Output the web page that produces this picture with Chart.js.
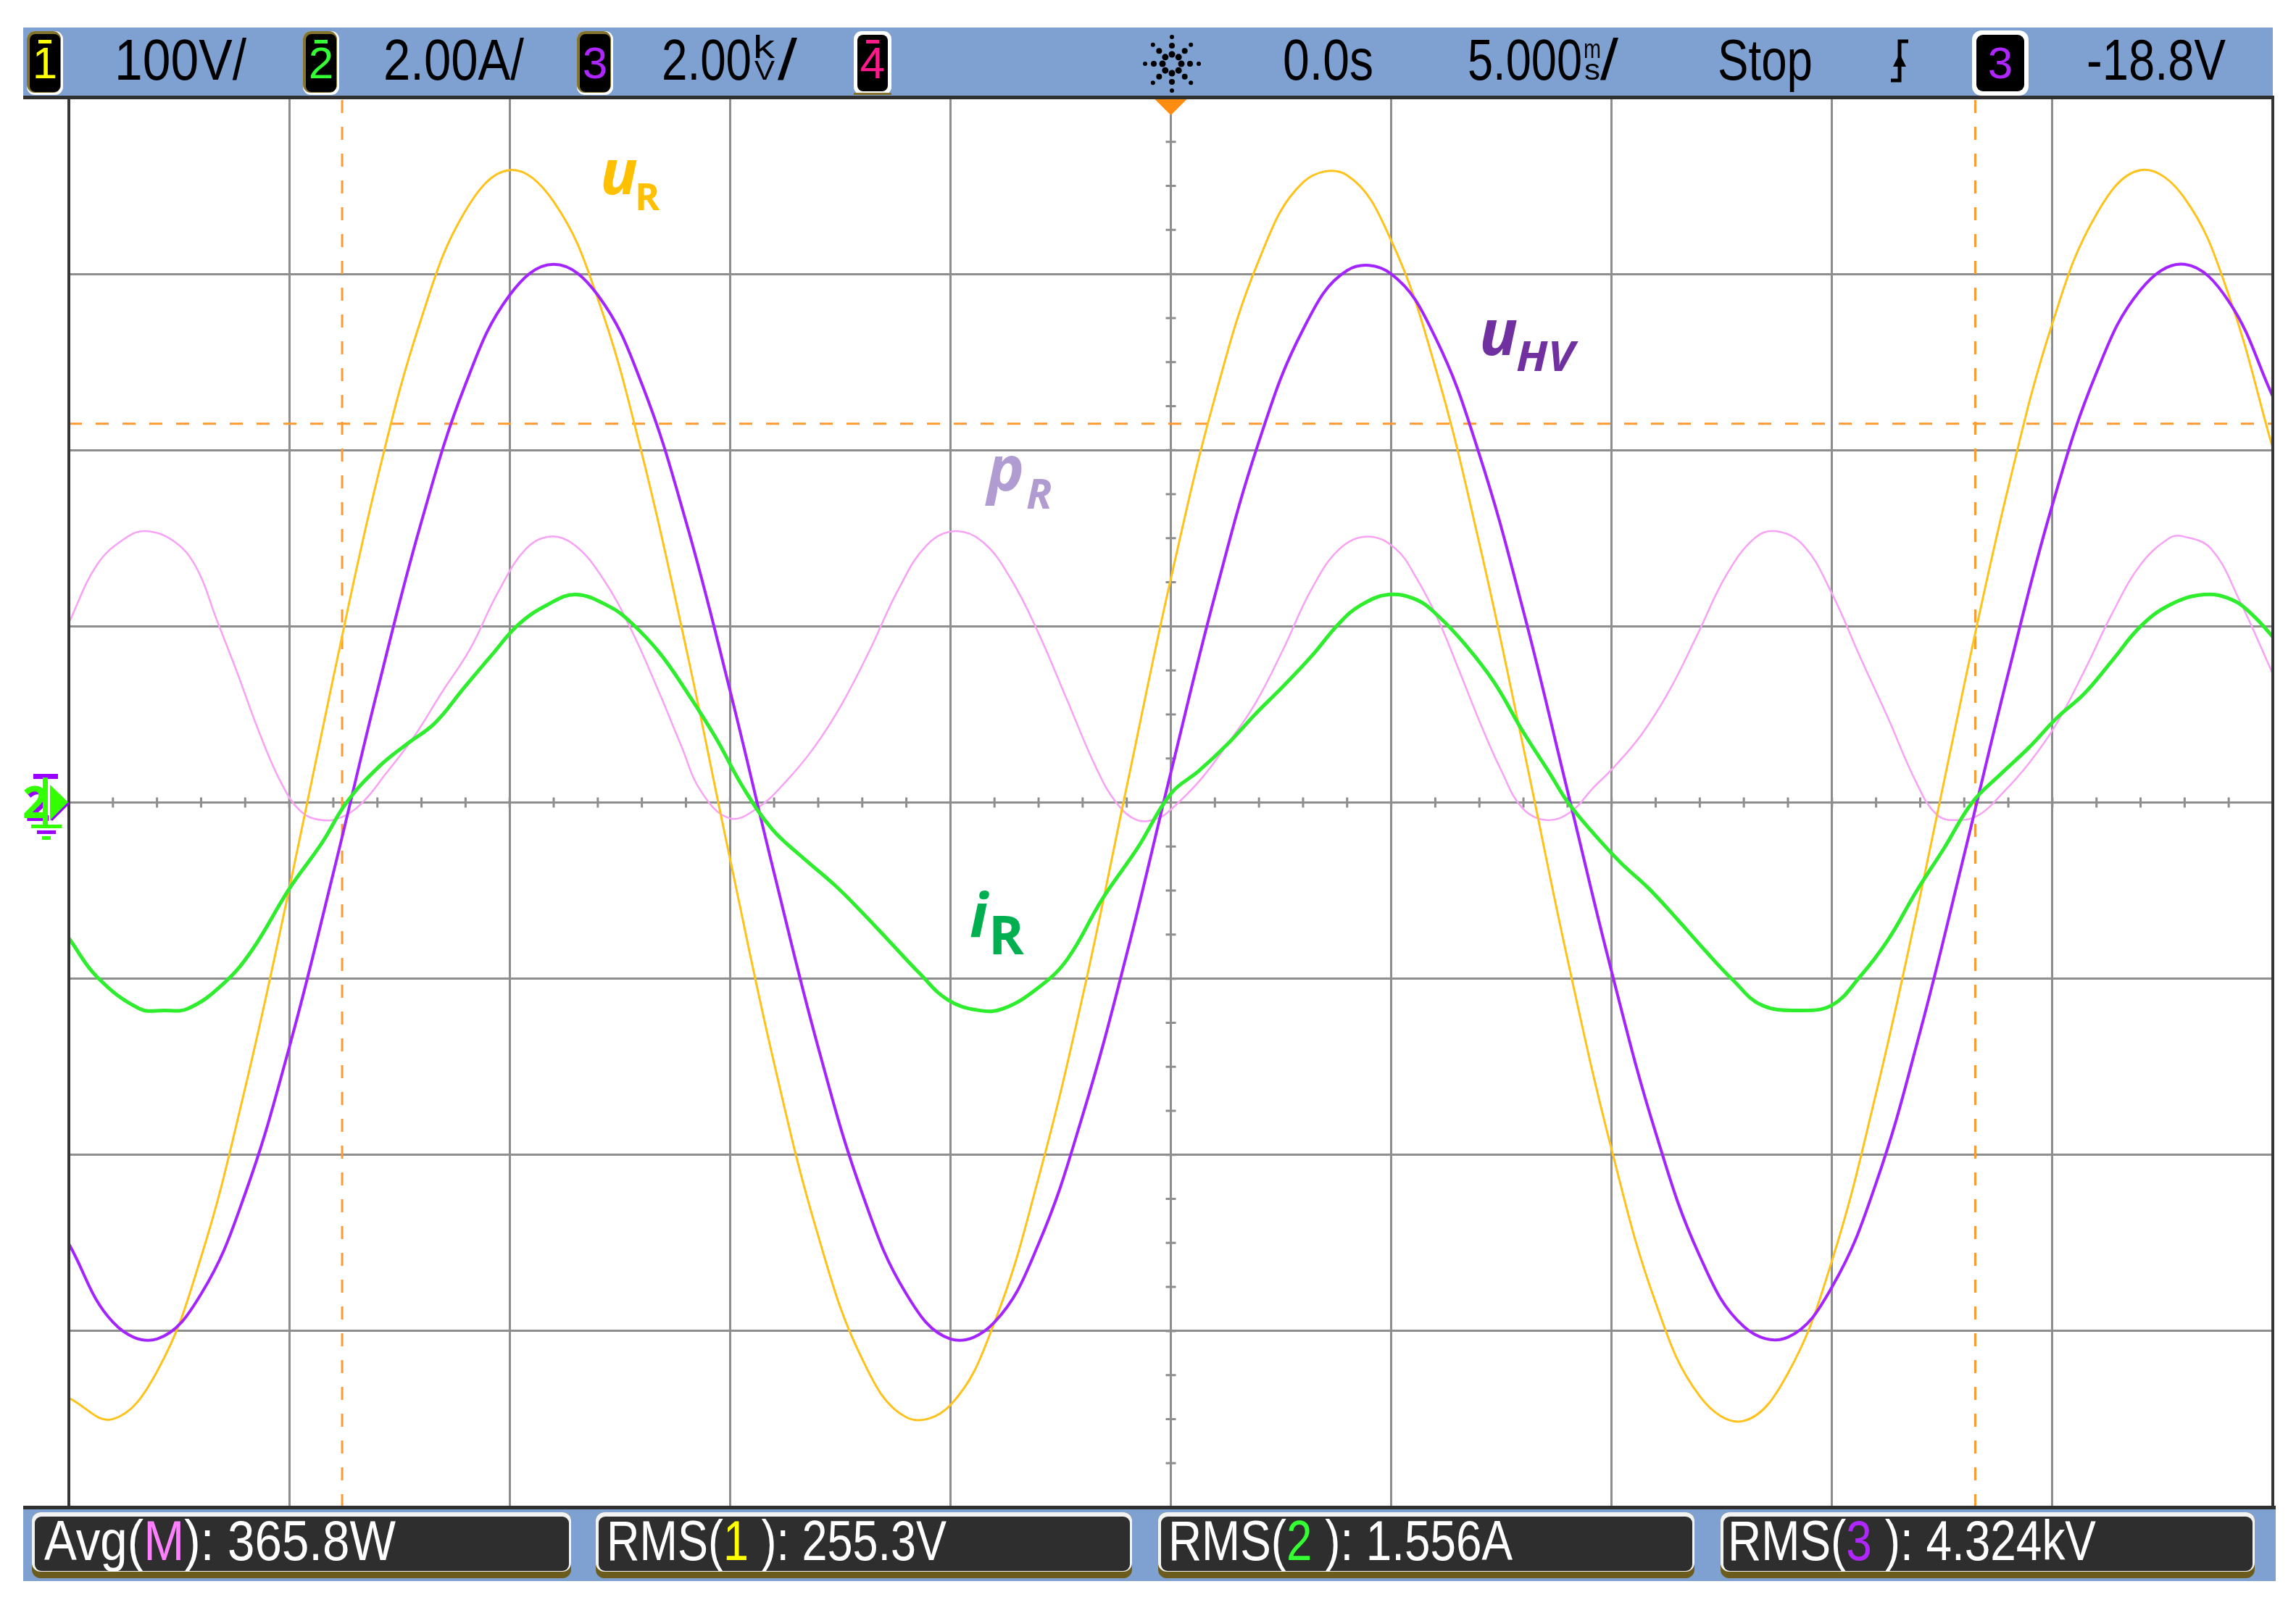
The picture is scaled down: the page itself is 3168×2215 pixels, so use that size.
<!DOCTYPE html>
<html>
<head>
<meta charset="utf-8">
<title>uR, iR, pR, uHV</title>
<script src="https://cdn.jsdelivr.net/npm/chart.js@4.4.1/dist/chart.umd.min.js"></script>
<style>
  html, body { margin: 0; background: #fff; }
  body { width: 3168px; height: 2215px; position: relative; overflow: hidden; }
  #scope { position: absolute; left: 85px; top: 125px; }
  #overlay { position: absolute; left: 0; top: 0; }
  .bar { font-family: "Liberation Sans", Arial, sans-serif; white-space: pre; }
  .lbl { font-family: "Open Sans", "Noto Sans", sans-serif; font-weight: 700; }
</style>
</head>
<body>
<canvas id="scope" width="3061" height="1965"></canvas>

<svg id="overlay" width="3168" height="2215" xmlns="http://www.w3.org/2000/svg">
  <!-- top status bar -->
  <rect x="32" y="38" width="3104" height="96" fill="#7ea1d1"/>
  <rect x="32" y="132" width="3106" height="5" fill="#303030"/>

  <rect x="37" y="43" width="50" height="88" rx="11" fill="#fff"/>
  <rect x="37" y="43" width="47" height="85" rx="11" fill="#85742e"/>
  <rect x="41" y="47" width="42" height="80" rx="8" fill="#000"/>
  <rect x="53" y="55" width="18" height="5" fill="#ffff00"/>
  <text class="bar" x="62" y="108" font-size="62" text-anchor="middle" fill="#ffff00">1</text>
  <text class="bar" x="158" y="110" font-size="80" textLength="182" lengthAdjust="spacingAndGlyphs">100V/</text>

  <rect x="418" y="43" width="50" height="88" rx="11" fill="#fff"/>
  <rect x="418" y="43" width="47" height="85" rx="11" fill="#85742e"/>
  <rect x="422" y="47" width="42" height="80" rx="8" fill="#000"/>
  <rect x="434" y="55" width="18" height="5" fill="#33ff33"/>
  <text class="bar" x="443" y="108" font-size="62" text-anchor="middle" fill="#33ff33">2</text>
  <text class="bar" x="529" y="110" font-size="80" textLength="194" lengthAdjust="spacingAndGlyphs">2.00A/</text>

  <rect x="796" y="43" width="50" height="88" rx="11" fill="#fff"/>
  <rect x="796" y="43" width="47" height="85" rx="11" fill="#85742e"/>
  <rect x="800" y="47" width="42" height="80" rx="8" fill="#000"/>
  <text class="bar" x="821" y="108" font-size="62" text-anchor="middle" fill="#b026ff">3</text>
  <text class="bar" x="913" y="110" font-size="80" textLength="124" lengthAdjust="spacingAndGlyphs">2.00</text>
  <text class="bar" x="1039" y="80" font-size="44" textLength="30" lengthAdjust="spacingAndGlyphs">k</text>
  <text class="bar" x="1041" y="110" font-size="36" textLength="28" lengthAdjust="spacingAndGlyphs">V</text>
  <text class="bar" x="1073" y="110" font-size="80" textLength="27" lengthAdjust="spacingAndGlyphs">/</text>

  <rect x="1178" y="43" width="52" height="88" rx="11" fill="#fff"/>
  <rect x="1178" y="128" width="52" height="3" fill="#85742e"/>
  <rect x="1183" y="48" width="42" height="78" rx="8" fill="#000"/>
  <rect x="1195" y="55" width="18" height="5" fill="#ff1a8c"/>
  <text class="bar" x="1204" y="108" font-size="62" text-anchor="middle" fill="#ff1a8c">4</text>

  <g id="logo"></g>

  <text class="bar" x="1770" y="110" font-size="80" textLength="125" lengthAdjust="spacingAndGlyphs">0.0s</text>
  <text class="bar" x="2025" y="110" font-size="80" textLength="158" lengthAdjust="spacingAndGlyphs">5.000</text>
  <text class="bar" x="2185" y="80" font-size="36" textLength="24" lengthAdjust="spacingAndGlyphs">m</text>
  <text class="bar" x="2186" y="110" font-size="40" textLength="22" lengthAdjust="spacingAndGlyphs">s</text>
  <text class="bar" x="2208" y="110" font-size="80" textLength="25" lengthAdjust="spacingAndGlyphs">/</text>
  <text class="bar" x="2370" y="110" font-size="80" textLength="131" lengthAdjust="spacingAndGlyphs">Stop</text>

  <path d="M2609 111 H2621 V57 H2633" fill="none" stroke="#000" stroke-width="5"/>
  <polygon points="2612,92 2630,92 2621,74" fill="#000"/>

  <rect x="2721" y="42" width="78" height="90" rx="13" fill="#fff"/>
  <rect x="2727" y="48" width="66" height="78" rx="9" fill="#000"/>
  <text class="bar" x="2760" y="108" font-size="62" text-anchor="middle" fill="#b026ff">3</text>
  <text class="bar" x="2879" y="110" font-size="80" textLength="192" lengthAdjust="spacingAndGlyphs">-18.8V</text>

  <!-- bottom measurement bar -->
  <rect x="32" y="2078" width="3108" height="5" fill="#303030"/>
  <rect x="32" y="2083" width="3108" height="99" fill="#7ea1d1"/>

  <rect x="44" y="2087" width="744" height="91" rx="12" fill="#6b5b1d"/>
  <rect x="44" y="2087" width="744" height="82" rx="12" fill="#f2f2f2"/>
  <rect x="48" y="2093" width="737" height="75" rx="9" fill="#2e2e2e"/>
  <text class="bar" x="61" y="2153" font-size="77" fill="#fff" textLength="485" lengthAdjust="spacingAndGlyphs">Avg(<tspan fill="#ff80ff">M</tspan>): 365.8W</text>

  <rect x="822" y="2087" width="740" height="91" rx="12" fill="#6b5b1d"/>
  <rect x="822" y="2087" width="740" height="82" rx="12" fill="#f2f2f2"/>
  <rect x="826" y="2093" width="733" height="75" rx="9" fill="#2e2e2e"/>
  <text class="bar" x="837" y="2153" font-size="77" fill="#fff" textLength="469" lengthAdjust="spacingAndGlyphs">RMS(<tspan fill="#ffff00">1</tspan> ): 255.3V</text>

  <rect x="1598" y="2087" width="740" height="91" rx="12" fill="#6b5b1d"/>
  <rect x="1598" y="2087" width="740" height="82" rx="12" fill="#f2f2f2"/>
  <rect x="1602" y="2093" width="733" height="75" rx="9" fill="#2e2e2e"/>
  <text class="bar" x="1612" y="2153" font-size="77" fill="#fff" textLength="475" lengthAdjust="spacingAndGlyphs">RMS(<tspan fill="#33ff33">2</tspan> ): 1.556A</text>

  <rect x="2374" y="2087" width="737" height="91" rx="12" fill="#6b5b1d"/>
  <rect x="2374" y="2087" width="737" height="82" rx="12" fill="#f2f2f2"/>
  <rect x="2378" y="2093" width="730" height="75" rx="9" fill="#2e2e2e"/>
  <text class="bar" x="2384" y="2153" font-size="77" fill="#fff" textLength="508" lengthAdjust="spacingAndGlyphs">RMS(<tspan fill="#b026ff">3</tspan> ): 4.324kV</text>

  <!-- channel 2 ground marker -->
  <text class="lbl" x="35" y="1133" font-size="60" fill="#9900ff">2</text>
  <text class="lbl" x="31" y="1129" font-size="60" fill="#33ff00">2</text>
  <rect x="46" y="1068" width="34" height="7" fill="#9900ff"/>
  <rect x="59" y="1073" width="7" height="66" fill="#33ff00"/>
  <polygon points="69,1083 95,1108 69,1133" fill="#33ff00"/>
  <line x1="71" y1="1132" x2="95" y2="1108" stroke="#9900ff" stroke-width="3"/>
  <rect x="43" y="1138" width="42" height="5" fill="#33ff00"/>
  <rect x="51" y="1146" width="26" height="5" fill="#9900ff"/>
  <rect x="58" y="1154" width="12" height="5" fill="#33ff00"/>

  <!-- trace labels -->
  <text class="lbl" x="828" y="268" font-size="86" font-style="italic" fill="#ffc000">u</text>
  <text class="lbl" x="876" y="290" font-size="52" fill="#ffc000">R</text>
  <text class="lbl" x="2041" y="490" font-size="88" font-style="italic" fill="#7030a0">u</text>
  <text class="lbl" x="2092" y="512" font-size="58" font-style="italic" fill="#7030a0" textLength="80" lengthAdjust="spacingAndGlyphs">HV</text>
  <text class="lbl" x="1362" y="677" font-size="86" font-style="italic" fill="#b09cd0">p</text>
  <text class="lbl" x="1416" y="702" font-size="58" font-style="italic" fill="#b09cd0">R</text>
  <text class="lbl" x="1338" y="1293" font-size="84" font-style="italic" fill="#00b050">i</text>
  <text class="lbl" x="1364" y="1317" font-size="74" fill="#00b050">R</text>
</svg>

<script>
// time base: 5 ms/div, 10 divisions, trigger at 0
const timeMs = [-25, -24, -23, -22, -21, -20, -19, -18, -17, -16,
                -15, -14, -13, -12, -11, -10, -9, -8, -7, -6,
                -5, -4, -3, -2, -1, 0, 1, 2, 3, 4,
                5, 6, 7, 8, 9, 10, 11, 12, 13, 14,
                15, 16, 17, 18, 19, 20, 21, 22, 23, 24, 25];

// channel 1, u_R in V
const uR = [-338, -350, -323, -258, -162, -49, 71, 184, 275, 336,
            359, 341, 286, 198, 88, -32, -148, -246, -316, -349,
            -342, -295, -213, -110, 9, 127, 230, 308, 352, 356,
            319, 247, 147, 31, -89, -197, -284, -337, -351, -324,
            -260, -165, -53, 67, 179, 272, 334, 359, 343, 288, 201];

// channel 3, u_HV in kV
const uHV = [-5.01, -5.90, -6.09, -5.58, -4.44, -2.78, -0.80, 1.27, 3.19, 4.75,
             5.76, 6.11, 5.76, 4.75, 3.19, 1.27, -0.80, -2.78, -4.44, -5.58,
             -6.09, -5.90, -5.01, -3.55, -1.72, 0.34, 2.35, 4.10, 5.37, 6.04,
             6.00, 5.28, 3.95, 2.17, 0.13, -1.92, -3.75, -5.15, -5.95, -6.07,
             -5.50, -4.32, -2.60, -0.59, 1.47, 3.38, 4.88, 5.82, 6.11, 5.69, 4.61];

// channel 2, i_R in A
const timeI = [-25, -24.36, -23.4, -22.85, -22.3, -21.5, -20.85, -20, -19.26, -18.7,
               -17.98, -17.34, -16.7, -16.07, -15.43, -14.8, -14.16, -13.5, -12.72, -12.24,
               -11.6, -10.96, -10.33, -9.69, -9.05, -8.41, -7.62, -6.98, -6.34, -5.7,
               -5.06, -4.35, -3.8, -3.0, -2.35, -1.56, -0.76, 0, 0.64, 1.28,
               1.91, 2.55, 3.19, 3.83, 4.31, 4.94, 5.58, 6.06, 6.7, 7.34,
               7.97, 8.61, 9.01, 9.57, 10.2, 10.85, 11.48, 12.12, 12.76, 13.4,
               14.25, 15.0, 15.63, 16.27, 16.9, 17.54, 18.18, 18.82, 19.46, 20.1,
               20.73, 21.37, 22.0, 22.65, 23.44, 24.08, 24.56, 25];
const iR = [-1.54, -1.98, -2.34, -2.36, -2.34, -2.06, -1.68, -0.98, -0.46, 0,
            0.40, 0.66, 0.90, 1.28, 1.66, 2.02, 2.24, 2.36, 2.22, 2.04,
            1.70, 1.24, 0.74, 0.16, -0.30, -0.60, -0.94, -1.26, -1.60, -1.94,
            -2.24, -2.36, -2.34, -2.10, -1.78, -1.10, -0.52, 0.10, 0.36, 0.66,
            1.00, 1.32, 1.66, 2.04, 2.24, 2.36, 2.30, 2.12, 1.78, 1.36,
            0.82, 0.32, 0, -0.34, -0.68, -0.98, -1.32, -1.68, -2.02, -2.30,
            -2.36, -2.30, -1.98, -1.56, -1.02, -0.52, 0, 0.32, 0.62, 0.96,
            1.24, 1.62, 2.00, 2.24, 2.36, 2.30, 2.12, 1.88];

// math channel, p_R in W
const timeP = [-25, -24.36, -23.72, -23.25, -22.6, -22.1, -21.65, -21.17, -20.7, -20.2,
               -19.74, -19.26, -18.78, -18.3, -17.82, -17.18, -16.55, -15.9, -15.27, -14.63,
               -14.07, -13.52, -12.88, -12.24, -11.6, -11.12, -10.65, -10.0, -9.37, -8.73,
               -8.1, -7.46, -6.82, -6.18, -5.54, -4.9, -4.27, -3.63, -3.0, -2.35,
               -1.7, -1.24, -0.76, -0.29, 0, 0.64, 1.28, 1.91, 2.55, 3.19,
               3.83, 4.47, 5.1, 5.58, 6.06, 6.54, 7.02, 7.5, 7.97, 8.53,
               9.09, 9.57, 10.05, 10.69, 11.32, 11.96, 12.6, 13.24, 13.72, 14.35,
               14.99, 15.63, 16.27, 16.9, 17.38, 17.86, 18.34, 18.82, 19.46, 20.1,
               20.73, 21.37, 22.0, 22.65, 22.97, 23.6, 24.24, 25];
const pR = [510, 675, 750, 770, 740, 665, 520, 365, 205, 60,
            -25, -50, -40, 5, 80, 185, 310, 435, 595, 720,
            755, 730, 635, 490, 310, 165, 30, -45, -15, 60,
            155, 280, 435, 605, 730, 770, 740, 635, 480, 290,
            100, 0, -50, -45, -20, 60, 165, 280, 435, 605,
            720, 755, 720, 635, 520, 375, 225, 90, -15, -50,
            -25, 40, 100, 195, 320, 480, 645, 750, 770, 730,
            595, 415, 240, 60, -35, -50, -35, 20, 110, 225,
            375, 540, 675, 750, 755, 720, 575, 365];

// cursors: two time cursors (ms) and one level cursor (div)
const cursorTimes = [-18.8, 18.25];
const cursorLevel = 2.15;

// vertical scales per division
const voltsPerDiv = 100;
const ampsPerDiv = 2;
const kvPerDiv = 2;
const wattsPerDiv = 500;

const pts = (xs, ys) => xs.map((x, i) => ({ x: x, y: ys[i] }));

// keysight logo dots in the status bar
const logo = document.getElementById('logo');
for (let k = 0; k < 8; k++) {
  const a = k * Math.PI / 4;
  [[13, 4.5], [25, 4], [37, 3]].forEach(([r, s]) => {
    const c = document.createElementNS('http://www.w3.org/2000/svg', 'circle');
    c.setAttribute('cx', 1617 + r * Math.cos(a));
    c.setAttribute('cy', 88 + r * Math.sin(a));
    c.setAttribute('r', s);
    logo.appendChild(c);
  });
}

const gridStyle = { color: '#8e8e8e', lineWidth: 3, drawTicks: false };

const scopeFrame = {
  id: 'scopeFrame',
  beforeDatasetsDraw(chart) {
    const { ctx, scales: { x, y } } = chart;
    const cx = x.getPixelForValue(0), cy = y.getPixelForValue(0);
    ctx.save();
    ctx.strokeStyle = '#8e8e8e';
    ctx.lineWidth = 3;
    ctx.beginPath();
    for (let t = -25; t <= 25; t += 1) {
      const px = x.getPixelForValue(t);
      ctx.moveTo(px, cy - 7); ctx.lineTo(px, cy + 7);
    }
    for (let d = -4; d <= 4; d += 0.25) {
      const py = y.getPixelForValue(d);
      ctx.moveTo(cx - 7, py); ctx.lineTo(cx + 7, py);
    }
    ctx.stroke();
    ctx.restore();
  },
  afterDatasetsDraw(chart) {
    const { ctx, chartArea: a, scales: { x } } = chart;
    ctx.save();
    ctx.strokeStyle = '#353535';
    ctx.lineWidth = 4;
    ctx.strokeRect(a.left, a.top, a.right - a.left, a.bottom - a.top);
    const cx = x.getPixelForValue(0);
    ctx.fillStyle = '#ff8c10';
    ctx.beginPath();
    ctx.moveTo(cx - 22, a.top + 2);
    ctx.lineTo(cx + 22, a.top + 2);
    ctx.lineTo(cx, a.top + 24);
    ctx.closePath();
    ctx.fill();
    ctx.restore();
  }
};

const cursorStyle = {
  yAxisID: 'y', borderColor: '#ff9a30', borderWidth: 3, borderDash: [18, 19],
  pointRadius: 0, tension: 0, order: 9
};

new Chart(document.getElementById('scope').getContext('2d'), {
  type: 'line',
  data: {
    datasets: [
      { label: 'iR', data: pts(timeI, iR), yAxisID: 'yA', borderColor: '#2ded2d',
        borderWidth: 5, order: 1 },
      { label: 'uHV', data: pts(timeMs, uHV), yAxisID: 'ykV', borderColor: '#a424ff',
        borderWidth: 4, order: 2 },
      { label: 'uR', data: pts(timeMs, uR), yAxisID: 'yV', borderColor: '#ffc21a',
        borderWidth: 3, order: 3 },
      { label: 'pR', data: pts(timeP, pR), yAxisID: 'yW', borderColor: '#f8a2f6',
        borderWidth: 2.5, order: 4 },
      Object.assign({ label: 'X1', data: [{ x: cursorTimes[0], y: -4 }, { x: cursorTimes[0], y: 4 }] }, cursorStyle),
      Object.assign({ label: 'X2', data: [{ x: cursorTimes[1], y: -4 }, { x: cursorTimes[1], y: 4 }] }, cursorStyle),
      Object.assign({ label: 'Y', data: [{ x: -25, y: cursorLevel }, { x: 25, y: cursorLevel }] }, cursorStyle)
    ]
  },
  options: {
    responsive: false,
    animation: false,
    layout: { padding: 10 },
    elements: { point: { radius: 0 }, line: { fill: false, tension: 0.4 } },
    plugins: { legend: { display: false }, tooltip: { enabled: false } },
    scales: {
      x: { type: 'linear', min: -25, max: 25, ticks: { display: false, stepSize: 5 },
           grid: gridStyle, border: { display: false } },
      y: { min: -4, max: 4, ticks: { display: false, stepSize: 1 },
           grid: gridStyle, border: { display: false } },
      yV: { display: false, min: -4 * voltsPerDiv, max: 4 * voltsPerDiv },
      yA: { display: false, min: -4 * ampsPerDiv, max: 4 * ampsPerDiv },
      ykV: { display: false, min: -4 * kvPerDiv, max: 4 * kvPerDiv },
      yW: { display: false, min: -4 * wattsPerDiv, max: 4 * wattsPerDiv }
    }
  },
  plugins: [scopeFrame]
});
</script>
</body>
</html>
